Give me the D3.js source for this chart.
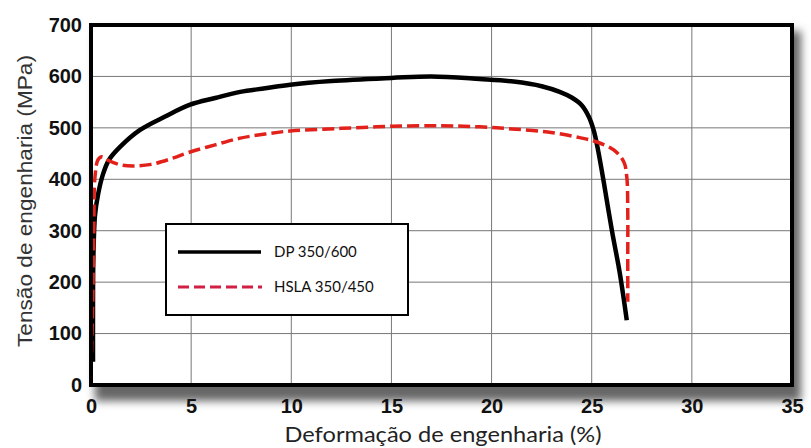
<!DOCTYPE html>
<html>
<head>
<meta charset="utf-8">
<script src="https://cdn.jsdelivr.net/npm/d3@7"></script>
<style>
  body { margin: 0; background: #fff; }
  svg { display: block; }
</style>
</head>
<body>
<div id="chart"></div>
<script>
// DP 350/600 (black solid)
var dpStrain = [0.1, 0.1, 0.12, 0.2, 0.35, 0.6, 0.9, 1.45, 2.45, 3.7, 4.95, 6.2, 7.45, 8.7, 9.95, 12, 15, 17, 19.4, 21.1, 22.5, 23.4, 24.0, 24.5, 24.85, 25.1, 25.3, 25.6, 26.0, 26.4, 26.75];
var dpStress = [45, 150, 250, 330, 370, 410, 438, 463, 496, 522, 545, 558, 570, 577, 584, 591, 597, 600, 595, 590, 581, 570, 559, 544, 522, 495, 460, 395, 302, 218, 126];

// HSLA 350/450 (red dashed)
var hslaStrain = [0.0, 0.08, 0.14, 0.2, 0.35, 0.55, 0.9, 1.5, 2.1, 3.0, 4.0, 4.95, 6.2, 7.45, 8.7, 9.95, 12.5, 15, 17.5, 19.4, 21, 22.8, 24.4, 25.3, 26.1, 26.6, 26.75, 26.8, 26.8, 26.8];
var hslaStress = [30, 150, 300, 405, 438, 444, 436, 428, 426, 429, 440, 453, 467, 480, 488, 494, 499, 503, 504, 502, 498, 492, 481, 472, 457, 434, 405, 335, 250, 162];

var xTicks = [0, 5, 10, 15, 20, 25, 30, 35];
var yTicks = [0, 100, 200, 300, 400, 500, 600, 700];

var seriesNames = ['DP 350/600', 'HSLA 350/450'];

var W = 811, H = 448;
var m = { left: 91, right: 811 - 792, top: 25, bottom: 448 - 385 };

var svg = d3.select('#chart').append('svg').attr('width', W).attr('height', H);

var x = d3.scaleLinear().domain([0, 35]).range([m.left, W - m.right]);
var y = d3.scaleLinear().domain([0, 700]).range([H - m.bottom, m.top]);

// drop shadow under the frame
var defs = svg.append('defs');
var f = defs.append('filter').attr('id', 'shadow').attr('x', '-10%').attr('y', '-10%').attr('width', '130%').attr('height', '140%');
f.append('feGaussianBlur').attr('stdDeviation', 4);
svg.append('rect')
    .attr('x', x(0) + 4).attr('y', y(700) + 6)
    .attr('width', x(35) - x(0) + 5).attr('height', y(0) - y(700) + 10)
    .attr('fill', '#666').attr('filter', 'url(#shadow)');
svg.append('rect')
    .attr('x', x(0)).attr('y', y(700))
    .attr('width', x(35) - x(0)).attr('height', y(0) - y(700))
    .attr('fill', '#fff');

// grid
svg.append('g').selectAll('line').data(xTicks.slice(1, -1)).enter().append('line')
    .attr('x1', function (d) { return x(d); }).attr('x2', function (d) { return x(d); })
    .attr('y1', y(0)).attr('y2', y(700))
    .attr('stroke', '#777').attr('stroke-width', 1);
svg.append('g').selectAll('line').data(yTicks.slice(1, -1)).enter().append('line')
    .attr('x1', x(0)).attr('x2', x(35))
    .attr('y1', function (d) { return y(d); }).attr('y2', function (d) { return y(d); })
    .attr('stroke', '#777').attr('stroke-width', 1);

// tick labels via d3 axes
var xAxis = svg.append('g').attr('transform', 'translate(0,' + y(0) + ')')
    .call(d3.axisBottom(x).tickValues(xTicks).tickSize(0).tickPadding(14));
var yAxis = svg.append('g').attr('transform', 'translate(' + x(0) + ',0)')
    .call(d3.axisLeft(y).tickValues(yTicks).tickSize(0).tickPadding(9));
[xAxis, yAxis].forEach(function (g) {
    g.select('.domain').remove();
    g.selectAll('text')
        .attr('font-family', 'Liberation Sans, Arial, sans-serif')
        .attr('font-weight', 'bold').attr('font-size', 20).attr('fill', '#111');
});

// curves
var line = d3.line()
    .x(function (d) { return x(d[0]); })
    .y(function (d) { return y(d[1]); })
    .curve(d3.curveCatmullRom.alpha(0.5));

var dp = d3.zip(dpStrain, dpStress);
var hsla = d3.zip(hslaStrain, hslaStress);

svg.append('path').datum(dp).attr('d', line)
    .attr('fill', 'none').attr('stroke', '#000').attr('stroke-width', 4.5)
    .attr('stroke-linejoin', 'round');
svg.append('path').datum(hsla).attr('d', line)
    .attr('fill', 'none').attr('stroke', '#e3211b').attr('stroke-width', 3.5)
    .attr('stroke-dasharray', '12,5');

// frame
svg.append('rect')
    .attr('x', x(0)).attr('y', y(700))
    .attr('width', x(35) - x(0)).attr('height', y(0) - y(700))
    .attr('fill', 'none').attr('stroke', '#000').attr('stroke-width', 4);

// legend
var lg = svg.append('g');
lg.append('rect').attr('x', 166).attr('y', 224).attr('width', 242).attr('height', 91)
    .attr('fill', '#fff').attr('stroke', '#000').attr('stroke-width', 2);
lg.append('line').attr('x1', 178).attr('x2', 261).attr('y1', 252).attr('y2', 252)
    .attr('stroke', '#000').attr('stroke-width', 3.5);
lg.append('line').attr('x1', 178).attr('x2', 262).attr('y1', 287).attr('y2', 287)
    .attr('stroke', '#d41f45').attr('stroke-width', 3).attr('stroke-dasharray', '11,5');
lg.selectAll('text').data(seriesNames).enter().append('text')
    .attr('x', 274).attr('y', function (d, i) { return 257 + i * 35; })
    .attr('font-family', 'Lato, Open Sans, sans-serif').attr('font-size', 15).attr('fill', '#111')
    .text(function (d) { return d; });

// titles
svg.append('text')
    .attr('x', 443).attr('y', 442).attr('text-anchor', 'middle')
    .attr('font-family', 'Lato, Open Sans, sans-serif').attr('font-size', 22).attr('fill', '#222')
    .attr('textLength', 317).attr('lengthAdjust', 'spacingAndGlyphs')
    .text('Deformação de engenharia (%)');
svg.append('text')
    .attr('transform', 'translate(32,201) rotate(-90)').attr('text-anchor', 'middle')
    .attr('font-family', 'Liberation Sans, Arial, sans-serif').attr('font-size', 20).attr('fill', '#333')
    .attr('textLength', 292).attr('lengthAdjust', 'spacingAndGlyphs')
    .text('Tensão de engenharia (MPa)');
</script>
</body>
</html>
